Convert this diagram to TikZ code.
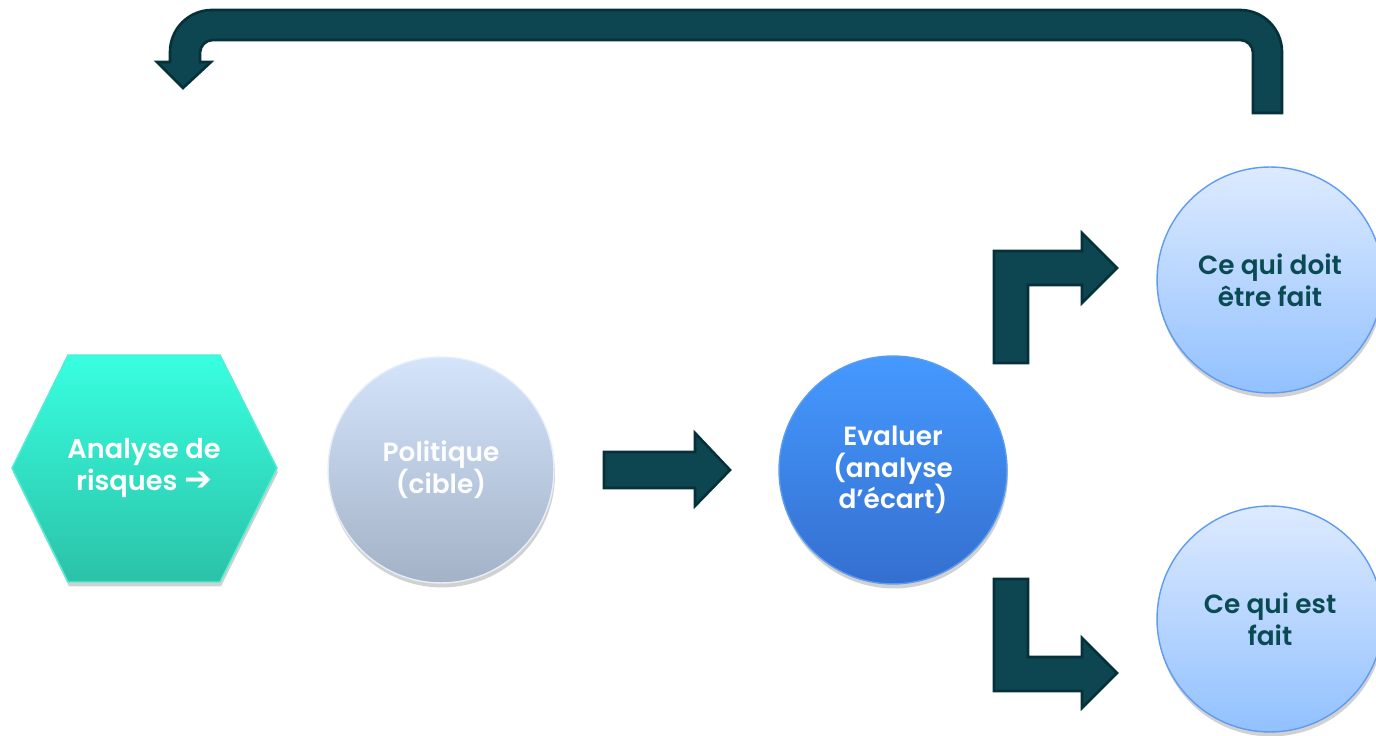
\documentclass[tikz,border=0pt]{standalone}
\usepackage{fontspec}
\setmainfont{Poppins}[BoldFont={Poppins SemiBold}]
\newfontfamily\symfont{DejaVu Sans}
\usetikzlibrary{shadows}

\definecolor{arrowfill}{HTML}{0D4550}
\definecolor{arrowline}{HTML}{05313A}
\definecolor{hextop}{HTML}{38FFE0}
\definecolor{hexbot}{HTML}{2BC2A8}
\definecolor{hexline}{HTML}{52EDD5}
\definecolor{poltop}{HTML}{D4E4FB}
\definecolor{polbot}{HTML}{A3B2C6}
\definecolor{polline}{HTML}{E6EEFA}
\definecolor{evaltop}{HTML}{4599FF}
\definecolor{evalbot}{HTML}{346FCF}
\definecolor{evalline}{HTML}{5A9CF2}
\definecolor{lighttop}{HTML}{DDEAFF}
\definecolor{lightbot}{HTML}{92C1FF}
\definecolor{lightline}{HTML}{5E9BF2}
\definecolor{darktext}{HTML}{0A4A52}

\begin{document}
\begin{tikzpicture}[x=0.02cm, y=0.02cm]
      \tikzstyle{SHAD} = [drop shadow={fill=black!60, opacity=.3, shadow xshift=0.02cm, shadow yshift=-0.09cm}]
      \tikzstyle{CIRC} = [circle, minimum size=4.52cm, inner sep=0pt, align=center, line width=0.8pt, SHAD,
                          font=\bfseries\fontsize{15}{18}\selectfont]
      \tikzstyle{ARR} = [fill=arrowfill, draw=arrowline, line width=1.5pt, line join=miter]

      \clip (0,0) rectangle (1376,736);

      %%%%% VERTEX

      \draw[SHAD, top color=hextop, bottom color=hexbot, draw=hexline, line width=0.8pt]
            (12,268) -- (68,381) -- (220,381) -- (277,268) -- (220,154) -- (68,154) -- cycle;
      \node[align=center, text=white, font=\bfseries\fontsize{15.5}{18}\selectfont](hexa) at (144,268)
            {Analyse de\\risques {\symfont\bfseries\fontsize{19}{18}\selectfont ➔}};

      \node[CIRC, top color=poltop, bottom color=polbot, draw=polline, text=white!95!poltop](pol) at (441,266)
            {Politique\\(cible)};
      \node[CIRC, minimum size=4.56cm, top color=evaltop, bottom color=evalbot, draw=evalline, text=white](eval) at (893,266)
            {Evaluer\\(analyse\\d’écart)};
      \node[CIRC, top color=lighttop, bottom color=lightbot, draw=lightline, text=darktext](todo) at (1270,456)
            {Ce qui doit\\être fait};
      \node[CIRC, top color=lighttop, bottom color=lightbot, draw=lightline, text=darktext](done) at (1270,117)
            {Ce qui est\\fait};

      %%%%% ARROWS
      \draw[ARR] (604,284) -- (695,284) -- (695,303) -- (730,266) -- (695,230) -- (695,248) -- (604,248) -- cycle;

      \draw[ARR] (994,373) -- (994,485) -- (1082,485) -- (1082,503) -- (1117,468) -- (1082,433)
            -- (1082,451) -- (1028,451) -- (1028,373) -- cycle;
      \draw[ARR] (994,157) -- (994,45) -- (1082,45) -- (1082,28) -- (1117,63) -- (1082,98)
            -- (1082,79) -- (1028,79) -- (1028,157) -- cycle;

      \draw[ARR] (1282,623) -- (1282,684) arc[start angle=0, end angle=90, radius=42] -- (212,726)
            arc[start angle=90, end angle=180, radius=42] -- (170,674) -- (157,674) -- (183,648)
            -- (211,674) -- (200,674) -- (200,683) arc[start angle=180, end angle=90, radius=13]
            -- (1240,696) arc[start angle=90, end angle=0, radius=13] -- (1253,623) -- cycle;
    \end{tikzpicture}
\end{document}
